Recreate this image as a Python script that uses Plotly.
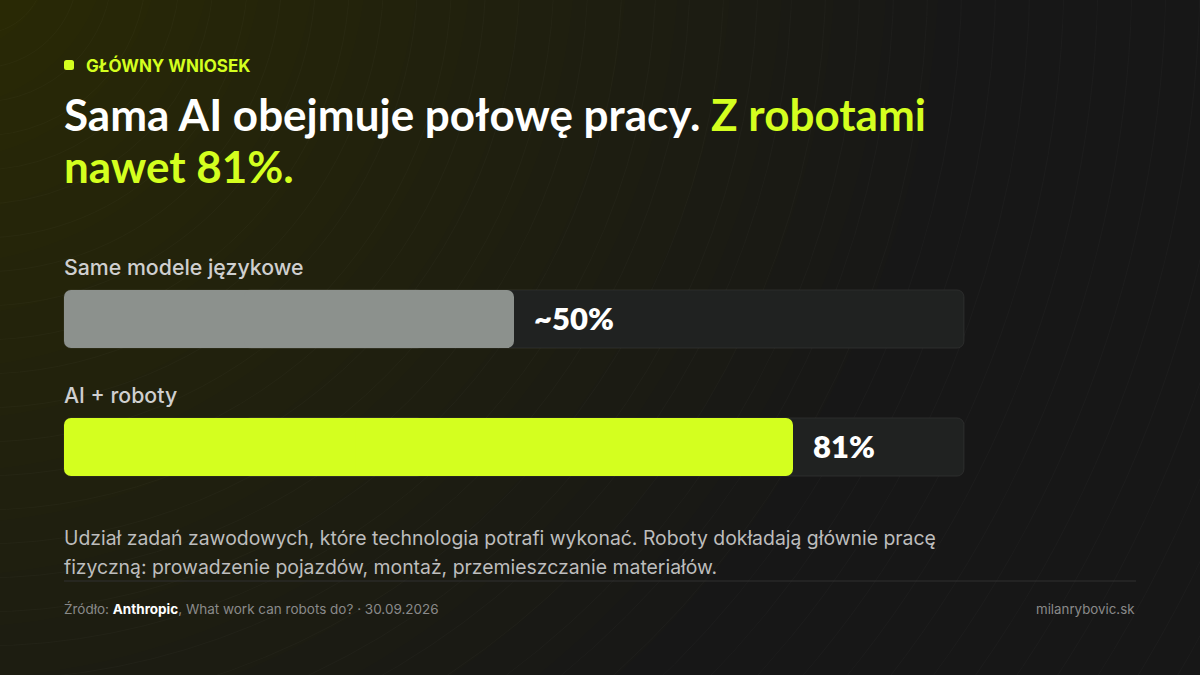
import plotly.graph_objects as go

# ---------------- data ----------------
categories = ["Same modele językowe", "AI + roboty"]
values = [50, 81]
value_labels = ["~50%", "81%"]
bar_colors = ["#8c918d", "#d4ff1f"]
track_max = 100
rows = [1, 0]

kicker = "GŁÓWNY WNIOSEK"
title_line1 = "Sama AI obejmuje połowę pracy. <span style='color:#d4ff1f'>Z robotami</span>"
title_line2 = "nawet 81%."
desc_lines = [
    "Udział zadań zawodowych, które technologia potrafi wykonać. Roboty dokładają głównie pracę",
    "fizyczną: prowadzenie pojazdów, montaż, przemieszczanie materiałów.",
]
source_text = "Źródło: <b style='color:#ffffff'>Anthropic</b>, What work can robots do? · 30.09.2026"
brand = "milanrybovic.sk"

# ---------------- style ----------------
W, H = 1200, 675
LIME = "#d4ff1f"
BG = "#171717"
TRACK = "#202221"
BAR_W = 0.455
RADIUS = 7
TITLE_FONT = "Lato"
BODY_FONT = "Inter"

fig = go.Figure()

# tracks (two overlapping halves so both ends get rounded corners)
for i, r in enumerate(rows):
    a, b = track_max * 0.4, track_max * 0.2
    fig.add_trace(go.Bar(y=[r], x=[-a], base=[a], orientation="h", width=BAR_W,
                         marker=dict(color=TRACK, cornerradius=RADIUS,
                                     line=dict(color="rgba(255,255,255,0.07)", width=1)),
                         hoverinfo="skip", showlegend=False))
    fig.add_trace(go.Bar(y=[r], x=[track_max - b], base=[b], orientation="h", width=BAR_W,
                         marker=dict(color=TRACK, cornerradius=RADIUS,
                                     line=dict(color="rgba(255,255,255,0.07)", width=1)),
                         hoverinfo="skip", showlegend=False))

# value bars
for i, r in enumerate(rows):
    v = values[i]
    fig.add_trace(go.Bar(y=[r], x=[-v * 0.6], base=[v * 0.6], orientation="h", width=BAR_W,
                         marker=dict(color=bar_colors[i], cornerradius=RADIUS, line=dict(width=0)),
                         hoverinfo="skip", showlegend=False))
    fig.add_trace(go.Bar(y=[r], x=[v * 0.6], base=[v * 0.4], orientation="h", width=BAR_W,
                         marker=dict(color=bar_colors[i], cornerradius=RADIUS, line=dict(width=0)),
                         hoverinfo="skip", showlegend=False))

annotations = []
for i, r in enumerate(rows):
    annotations.append(dict(x=values[i], y=r, xref="x", yref="y", text=value_labels[i],
                            xanchor="left", yanchor="middle", xshift=18, yshift=1, showarrow=False,
                            font=dict(family=TITLE_FONT, size=31, color="#ffffff", weight=800)))
    annotations.append(dict(x=0, y=r, xref="x", yref="y", text=categories[i],
                            xanchor="left", yanchor="middle", xshift=-2, yshift=52, showarrow=False,
                            font=dict(family=BODY_FONT, size=21.3, color="#cfcfcf", weight=500)))


def px(x):
    return x / W


def py(y):
    return 1 - y / H


annotations += [
    dict(x=px(84), y=py(65), xref="paper", yref="paper", text="<b>" + kicker + "</b>",
         xanchor="left", yanchor="middle", showarrow=False,
         font=dict(family=BODY_FONT, size=17, color=LIME)),
    dict(x=px(62), y=py(114), xref="paper", yref="paper", text=title_line1,
         xanchor="left", yanchor="middle", showarrow=False,
         font=dict(family=TITLE_FONT, size=44, color="#ffffff", weight=700)),
    dict(x=px(62), y=py(166), xref="paper", yref="paper", text=title_line2,
         xanchor="left", yanchor="middle", showarrow=False,
         font=dict(family=TITLE_FONT, size=44, color=LIME, weight=700)),
    dict(x=px(62), y=py(538), xref="paper", yref="paper", text=desc_lines[0],
         xanchor="left", yanchor="middle", showarrow=False,
         font=dict(family=BODY_FONT, size=19.4, color="#bdbdbd")),
    dict(x=px(62), y=py(567), xref="paper", yref="paper", text=desc_lines[1],
         xanchor="left", yanchor="middle", showarrow=False,
         font=dict(family=BODY_FONT, size=19.4, color="#bdbdbd")),
    dict(x=px(62), y=py(609), xref="paper", yref="paper", text=source_text,
         xanchor="left", yanchor="middle", showarrow=False,
         font=dict(family=BODY_FONT, size=13.5, color="#8a8a8a")),
    dict(x=px(1137), y=py(609), xref="paper", yref="paper", text=brand,
         xanchor="right", yanchor="middle", showarrow=False,
         font=dict(family=BODY_FONT, size=13.3, color="#8a8a8a")),
]

shapes = []
# greenish glow top-left
for k in range(18):
    rad = 1000 - 52 * k
    cx, cy = -60, -60
    shapes.append(dict(type="circle", xref="paper", yref="paper", layer="below",
                       x0=px(cx - rad), x1=px(cx + rad), y0=py(cy + rad), y1=py(cy - rad),
                       fillcolor="rgba(200,250,35,0.006)", line=dict(width=0)))
# faint arcs
for k in range(45):
    rad = 30 + 34 * k
    cx, cy = -20, -30
    shapes.append(dict(type="circle", xref="paper", yref="paper", layer="below",
                       x0=px(cx - rad), x1=px(cx + rad), y0=py(cy + rad), y1=py(cy - rad),
                       fillcolor="rgba(0,0,0,0)", line=dict(color="rgba(255,255,255,0.022)", width=1)))
# kicker square (rounded)
sx0, sx1, sy0, sy1, rr = 64, 74, 60, 70, 2.5
path = (f"M {px(sx0+rr)},{py(sy0)} L {px(sx1-rr)},{py(sy0)} Q {px(sx1)},{py(sy0)} {px(sx1)},{py(sy0+rr)} "
        f"L {px(sx1)},{py(sy1-rr)} Q {px(sx1)},{py(sy1)} {px(sx1-rr)},{py(sy1)} "
        f"L {px(sx0+rr)},{py(sy1)} Q {px(sx0)},{py(sy1)} {px(sx0)},{py(sy1-rr)} "
        f"L {px(sx0)},{py(sy0+rr)} Q {px(sx0)},{py(sy0)} {px(sx0+rr)},{py(sy0)} Z")
shapes.append(dict(type="path", xref="paper", yref="paper", path=path,
                   fillcolor=LIME, line=dict(width=0)))
# footer separator
shapes.append(dict(type="line", xref="paper", yref="paper", x0=px(64), x1=px(1136), y0=py(581), y1=py(581),
                   line=dict(color="#313131", width=1)))

# y mapping: 128 px per unit, y=0 at pixel 447
unit = 128.0
y_lo = -(H - 447) / unit
y_hi = y_lo + H / unit
one_px = track_max / 900.0

fig.update_layout(
    width=W, height=H,
    margin=dict(l=0, r=0, t=0, b=0),
    paper_bgcolor=BG, plot_bgcolor="rgba(0,0,0,0)",
    barmode="overlay",
    xaxis=dict(domain=[63 / W, 965 / W], range=[-one_px, track_max + one_px],
               visible=False, fixedrange=True),
    yaxis=dict(domain=[0, 1], range=[y_lo, y_hi], visible=False, fixedrange=True),
    annotations=annotations, shapes=shapes,
    showlegend=False,
)

fig.write_html("out.html")
